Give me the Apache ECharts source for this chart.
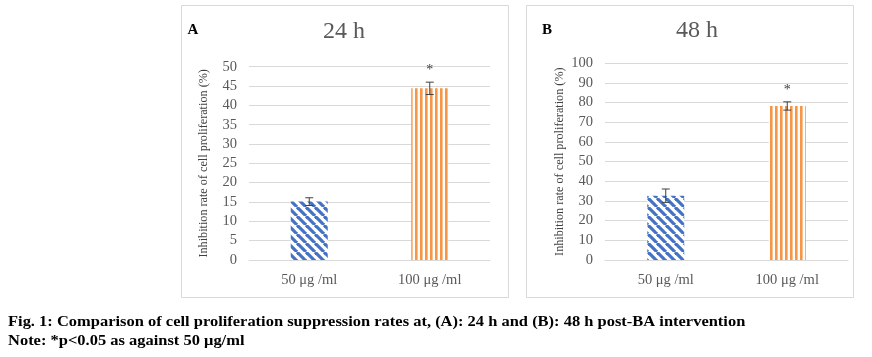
<!DOCTYPE html>
<html>
<head>
<meta charset="utf-8">
<script src="https://cdn.jsdelivr.net/npm/echarts@6/dist/echarts.min.js"></script>
<style>
html,body{margin:0;padding:0;background:#fff;}
#c{width:872px;height:357px;}
</style>
</head>
<body>
<div id="c"></div>
<script>
// ---- data ----
const categories = ['50 μg /ml', '100 μg /ml'];
const values24 = [15.1, 44.4];
const err24 = [1.0, 1.6];
const values48 = [32.7, 78.3];
const err48 = [3.4, 2.1];
const sigMarks = ['', '*'];
const panelTitles = ['24 h', '48 h'];
const panelLetters = ['A', 'B'];
const yAxisName = 'Inhibition rate of cell proliferation (%)';
const captionLine1 = 'Fig. 1: Comparison of cell proliferation suppression rates at, (A): 24 h and (B): 48 h post-BA intervention';
const captionLine2 = 'Note: *p<0.05 as against 50 μg/ml';

// ---- patterns ----
function diagPattern(color) {
  const s = 9;
  const c = document.createElement('canvas');
  c.width = s; c.height = s;
  const ctx = c.getContext('2d');
  ctx.fillStyle = '#fff'; ctx.fillRect(0, 0, s, s);
  ctx.strokeStyle = color; ctx.lineWidth = 3.2;
  for (let o = -s; o <= s; o += s) {
    ctx.beginPath(); ctx.moveTo(o, 0); ctx.lineTo(o + s, s); ctx.stroke();
  }
  return {image: c, repeat: 'repeat'};
}
function vertPattern(color) {
  const c = document.createElement('canvas');
  c.width = 5; c.height = 4;
  const ctx = c.getContext('2d');
  ctx.fillStyle = '#fff'; ctx.fillRect(0, 0, 5, 4);
  ctx.fillStyle = color; ctx.fillRect(0, 0, 2.6, 4);
  return {image: c, repeat: 'repeat'};
}
const blue = '#4472C4', orange = '#F79646';
const fills = [diagPattern(blue), vertPattern(orange)];

const serif = '"Liberation Serif", "Times New Roman", serif';
const grey = '#595959';

function errSeries(vals, errs, idx) {
  return {
    type: 'custom', xAxisIndex: idx, yAxisIndex: idx, z: 5,
    data: vals.map((v, i) => [i, v, errs[i]]),
    renderItem: function (params, api) {
      const i = api.value(0), v = api.value(1), e = api.value(2);
      const top = api.coord([i, v + e]);
      const bot = api.coord([i, v - e]);
      const x = top[0];
      const w = 4;
      const st = {stroke: '#404040', lineWidth: 1};
      const ch = [
        {type: 'line', shape: {x1: x, y1: top[1], x2: x, y2: bot[1]}, style: st},
        {type: 'line', shape: {x1: x - w, y1: top[1], x2: x + w, y2: top[1]}, style: st},
        {type: 'line', shape: {x1: x - w, y1: bot[1], x2: x + w, y2: bot[1]}, style: st}
      ];
      if (sigMarks[i]) {
        ch.push({type: 'text', style: {text: sigMarks[i], x: x, y: top[1] - 5, align: 'center', verticalAlign: 'bottom', font: '14px ' + serif, fill: '#404040'}});
      }
      return {type: 'group', children: ch};
    }
  };
}

function barSeries(vals, idx) {
  return {
    type: 'bar', xAxisIndex: idx, yAxisIndex: idx, barWidth: 37,
    data: vals.map((v, i) => ({value: v, itemStyle: {color: fills[i]}})),
    silent: true
  };
}

function xAxis(idx) {
  return {
    type: 'category', gridIndex: idx, data: categories,
    axisLine: {lineStyle: {color: '#D9D9D9', width: 1}},
    axisTick: {show: false},
    axisLabel: {fontFamily: serif, fontSize: 14.5, color: grey, margin: 13}
  };
}
function yAxis(idx, max, interval) {
  return {
    type: 'value', gridIndex: idx, min: 0, max: max, interval: interval,
    axisLine: {show: false}, axisTick: {show: false},
    splitLine: {lineStyle: {color: '#D9D9D9', width: 1}},
    axisLabel: {fontFamily: serif, fontSize: 14.5, color: grey, margin: 12},
    name: yAxisName, nameLocation: 'middle', nameGap: 39,
    nameTextStyle: {fontFamily: serif, fontSize: 12.2, color: '#404040'}
  };
}

const chart = echarts.init(document.getElementById('c'), null, {renderer: 'canvas'});
chart.setOption({
  animation: false,
  backgroundColor: '#fff',
  grid: [
    {left: 249, top: 66.7, width: 241, height: 193.3},
    {left: 605, top: 63.3, width: 243, height: 196.7}
  ],
  xAxis: [xAxis(0), xAxis(1)],
  yAxis: [yAxis(0, 50, 5), yAxis(1, 100, 10)],
  series: [
    barSeries(values24, 0), errSeries(values24, err24, 0),
    barSeries(values48, 1), errSeries(values48, err48, 1)
  ],
  graphic: [
    {type: 'rect', shape: {x: 181.5, y: 5.5, width: 327, height: 292}, style: {fill: 'none', stroke: '#D9D9D9', lineWidth: 1}},
    {type: 'rect', shape: {x: 526.5, y: 5.5, width: 327, height: 292}, style: {fill: 'none', stroke: '#D9D9D9', lineWidth: 1}},
    {type: 'text', x: 344, y: 32, style: {text: panelTitles[0], font: '24px ' + serif, fill: grey, align: 'center', verticalAlign: 'middle'}},
    {type: 'text', x: 697, y: 31, style: {text: panelTitles[1], font: '24px ' + serif, fill: grey, align: 'center', verticalAlign: 'middle'}},
    {type: 'text', x: 193, y: 30, style: {text: panelLetters[0], font: 'bold 15px ' + serif, fill: '#000', align: 'center', verticalAlign: 'middle'}},
    {type: 'text', x: 547, y: 30, style: {text: panelLetters[1], font: 'bold 15px ' + serif, fill: '#000', align: 'center', verticalAlign: 'middle'}},
    {type: 'text', x: 8, y: 322, scaleX: 1.098, style: {text: captionLine1, font: 'bold 15px ' + serif, fill: '#000', align: 'left', verticalAlign: 'middle'}},
    {type: 'text', x: 8, y: 341, scaleX: 1.098, style: {text: captionLine2, font: 'bold 15px ' + serif, fill: '#000', align: 'left', verticalAlign: 'middle'}}
  ]
});
</script>
</body>
</html>
